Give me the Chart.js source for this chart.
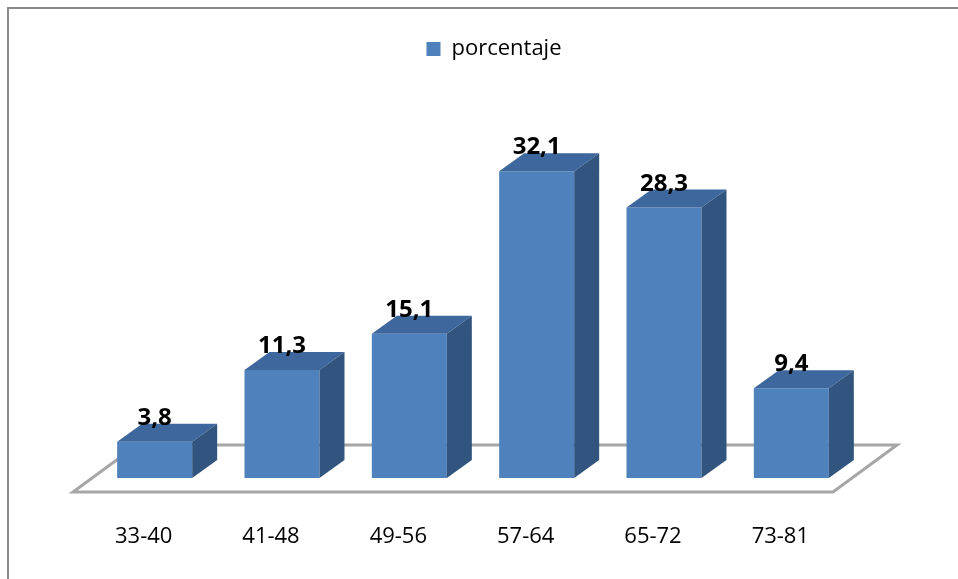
<!DOCTYPE html>
<html>
<head>
<meta charset="utf-8">
<script src="https://cdn.jsdelivr.net/npm/chart.js@4"></script>
<style>
  html, body { margin: 0; padding: 0; background: #fff; overflow: hidden; }
  #wrap { position: relative; width: 958px; height: 579px; }
  #frame { position: absolute; left: 7px; top: 7px; width: 1000px; height: 1000px; border: 2px solid #8a8a8a; }
  canvas { position: absolute; left: 0; top: 0; }
</style>
</head>
<body>
<div id="wrap">
  <div id="frame"></div>
  <canvas id="edadChart" width="958" height="579"></canvas>
</div>
<script>
// grupos de edad y porcentaje
const categories = ['33-40', '41-48', '49-56', '57-64', '65-72', '73-81'];
const porcentaje = [3.8, 11.3, 15.1, 32.1, 28.3, 9.4];
const seriesName = 'porcentaje';

// 3d look
const DX = 25, DY = 18;

const bars3d = {
  id: 'bars3d',
  afterLayout(chart) {
    // legend sits a bit right of the plot centre
    chart.legend.left += 21;
    chart.legend.right += 21;
  },
  beforeDatasetsDraw(chart) {
    // floor
    const ctx = chart.ctx;
    const a = chart.chartArea;
    const base = chart.scales.y.getPixelForValue(0);
    const fl = a.left - 18, fr = a.right - 22, fy = base + 14;
    ctx.save();
    ctx.beginPath();
    ctx.moveTo(fl, fy);
    ctx.lineTo(fr, fy);
    ctx.lineTo(fr + 64, fy - 47);
    ctx.lineTo(fl + 64, fy - 47);
    ctx.closePath();
    ctx.fillStyle = '#fff';
    ctx.fill();
    ctx.strokeStyle = '#a6a6a6';
    ctx.lineWidth = 3;
    ctx.stroke();
    ctx.restore();
  },
  afterDatasetsDraw(chart) {
    const ctx = chart.ctx;
    const meta = chart.getDatasetMeta(0);
    ctx.save();
    meta.data.forEach((bar, i) => {
      const l = bar.x - bar.width / 2, r = bar.x + bar.width / 2;
      const t = bar.y, b = bar.base;
      // top
      ctx.beginPath();
      ctx.moveTo(l, t);
      ctx.lineTo(l + DX, t - DY);
      ctx.lineTo(r + DX, t - DY);
      ctx.lineTo(r, t);
      ctx.closePath();
      ctx.fillStyle = '#3d679d';
      ctx.fill();
      // side
      ctx.beginPath();
      ctx.moveTo(r, t);
      ctx.lineTo(r + DX, t - DY);
      ctx.lineTo(r + DX, b - DY);
      ctx.lineTo(r, b);
      ctx.closePath();
      ctx.fillStyle = '#31557f';
      ctx.fill();
      // value label
      ctx.fillStyle = '#000';
      ctx.font = 'bold 24px "Open Sans"';
      ctx.textAlign = 'center';
      ctx.textBaseline = 'alphabetic';
      ctx.fillText(String(porcentaje[i]).replace('.', ','), bar.x, t - DY + 1);
    });
    ctx.restore();
  }
};

const ctx = document.getElementById('edadChart').getContext('2d');

const chart = new Chart(ctx, {
  type: 'bar',
  data: {
    labels: categories,
    datasets: [{
      label: seriesName,
      data: porcentaje,
      backgroundColor: '#4f81bd',
      borderWidth: 0,
      categoryPercentage: 1,
      barPercentage: 0.589
    }]
  },
  options: {
    responsive: false,
    animation: false,
    layout: { padding: { top: 28, left: 91, right: 103, bottom: 29 } },
    plugins: {
      legend: {
        position: 'top',
        labels: {
          boxWidth: 14,
          boxHeight: 14,
          color: '#000',
          font: { family: 'Open Sans', size: 22 }
        }
      },
      tooltip: { enabled: false },
      title: { display: false }
    },
    scales: {
      x: {
        grid: { display: false, drawTicks: false },
        border: { display: false },
        ticks: {
          color: '#000',
          padding: 46,
          labelOffset: -11,
          font: { family: 'Open Sans', size: 22 }
        },
        afterFit(scale) { scale.height = 72; }
      },
      y: {
        display: false,
        min: 0,
        max: 42.7
      }
    }
  },
  plugins: [bars3d]
});
</script>
</body>
</html>
